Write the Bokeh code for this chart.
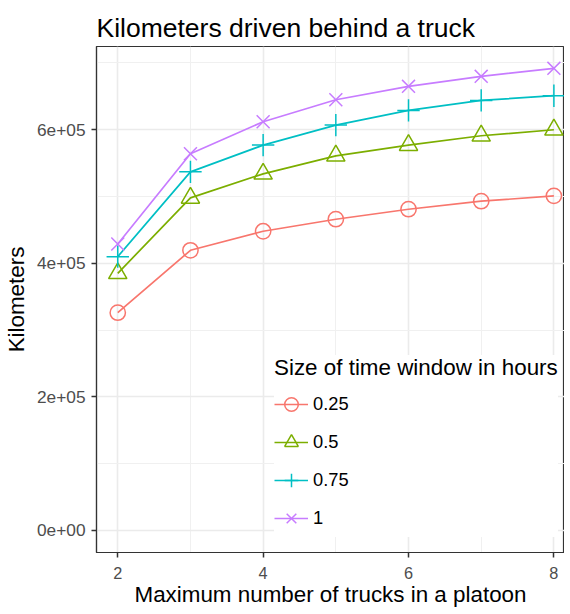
from bokeh.plotting import figure
from bokeh.models import FixedTicker, Legend, LegendItem
from bokeh.embed import file_html
from bokeh.resources import INLINE

# ---- data ----
trucks = [2, 3, 4, 5, 6, 7, 8]
window_labels = ["0.25", "0.5", "0.75", "1"]
km_025 = [326000, 419500, 448000, 466000, 481000, 493000, 501000]
km_05 = [385000, 498000, 534000, 561000, 577000, 591000, 600000]
km_075 = [410000, 537000, 577000, 607000, 629000, 644000, 651000]
km_1 = [429000, 564000, 612000, 645000, 665000, 680000, 692000]

x_ticks = [2, 4, 6, 8]
x_minor = [3, 5, 7]
y_ticks = [0, 200000, 400000, 600000]
y_minor = [100000, 300000, 500000, 700000]
y_tick_labels = ["0e+00", "2e+05", "4e+05", "6e+05"]

title_text = "Kilometers driven behind a truck"
x_title = "Maximum number of trucks in a platoon"
y_title = "Kilometers"
legend_title = "Size of time window in hours"

colors = ["#F8766D", "#7CAE00", "#00BFC4", "#C77CFF"]
markers = ["circle", "triangle", "cross", "x"]
sizes = [15.3, 18.3, 22.4, 18.3]
series = [km_025, km_05, km_075, km_1]

FONT = "Liberation Sans"

p = figure(width=564, height=609,
           x_range=(1.7075, 8.146), y_range=(-33100, 724700),
           output_backend="svg", toolbar_location=None,
           min_border_left=93, min_border_top=46,
           min_border_right=0, min_border_bottom=54)

p.title.text = title_text
p.title.text_font = FONT
p.title.text_font_size = "26.5px"
p.title.text_font_style = "normal"
p.title.text_color = "black"
p.title.align = "left"
p.title.offset = 0
p.title.standoff = 7

p.background_fill_color = "white"
p.border_fill_color = "white"
p.outline_line_color = "#333333"
p.outline_line_width = 1.2

for ax in (p.xaxis[0], p.yaxis[0]):
    ax.axis_line_color = "#333333"
    ax.axis_line_width = 1.2
    ax.major_tick_line_color = "#333333"
    ax.major_tick_line_width = 1.5
    ax.major_tick_in = 0
    ax.major_tick_out = 5
    ax.minor_tick_line_color = None
    ax.major_label_text_font = FONT
    ax.major_label_text_color = "#4D4D4D"
    ax.axis_label_text_font = FONT
    ax.axis_label_text_font_style = "normal"
    ax.axis_label_text_color = "black"
    ax.axis_label_text_font_size = "22.4px"

p.xaxis.ticker = FixedTicker(ticks=x_ticks, minor_ticks=x_minor)
p.yaxis.ticker = FixedTicker(ticks=y_ticks, minor_ticks=y_minor)
p.yaxis.major_label_overrides = {t: l for t, l in zip(y_ticks, y_tick_labels)}
p.xaxis.major_label_text_font_size = "16.3px"
p.yaxis.major_label_text_font_size = "17.3px"
p.xaxis.major_label_standoff = 9
p.yaxis.major_label_standoff = 6
p.xaxis.axis_label = x_title
p.yaxis.axis_label = y_title
p.xaxis.axis_label_standoff = 0
p.yaxis.axis_label_standoff = 5

for g in (p.xgrid[0], p.ygrid[0]):
    g.grid_line_color = "#EBEBEB"
    g.grid_line_width = 1.6
    g.minor_grid_line_color = "#F0F0F0"
    g.minor_grid_line_width = 1.0

items = []
for lab, ys, c, m, s in zip(window_labels, series, colors, markers, sizes):
    r1 = p.line(trucks, ys, line_color=c, line_width=1.7)
    r2 = p.scatter(trucks, ys, marker=m, size=s, line_color=c,
                   fill_color=None, line_width=1.5)
    items.append(LegendItem(label=lab, renderers=[r1, r2]))

legend = Legend(items=items, location=(178, 15), title=legend_title)
legend.title_text_font = FONT
legend.title_text_font_size = "22.4px"
legend.title_text_font_style = "normal"
legend.title_text_color = "black"
legend.title_standoff = 4
legend.label_text_font = FONT
legend.label_text_font_size = "18.3px"
legend.label_text_color = "black"
legend.glyph_width = 34
legend.glyph_height = 38
legend.label_height = 38
legend.spacing = 0
legend.padding = 8
legend.label_standoff = 5
legend.margin = 0
legend.background_fill_color = "white"
legend.background_fill_alpha = 1.0
legend.border_line_color = None
p.add_layout(legend, "center")

open("out.html", "w").write(file_html(p, INLINE))
